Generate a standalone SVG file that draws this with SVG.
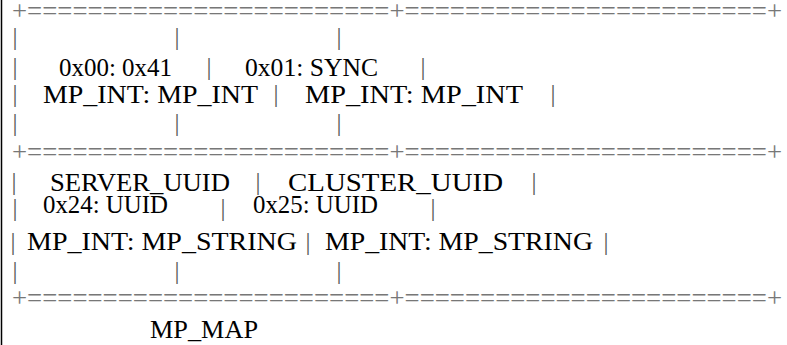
<svg xmlns="http://www.w3.org/2000/svg" width="787" height="345" viewBox="0 0 787 345">
<style>
.t{font-family:"Liberation Serif","Times New Roman",serif;font-size:25px;fill:#000}
.b{font-family:"Liberation Serif","Times New Roman",serif;font-size:25px;fill:#555;text-anchor:middle}
.s{font-family:"Liberation Serif","Times New Roman",serif;font-size:27px;fill:#777}
</style>
<rect width="787" height="345" fill="#fff"/>
<line x1="1.5" y1="0" x2="1.5" y2="345" stroke="#000" stroke-width="1.5"/>
<g id="separators">
<text class="s" x="12" y="20" textLength="770" lengthAdjust="spacingAndGlyphs">+========================+========================+</text>
<text class="s" x="12" y="161" textLength="770" lengthAdjust="spacingAndGlyphs">+========================+========================+</text>
<text class="s" x="12" y="307" textLength="770" lengthAdjust="spacingAndGlyphs">+========================+========================+</text>
</g>
<g id="bars">
<text class="b" x="15" y="45">|</text><text class="b" x="177" y="45">|</text><text class="b" x="339" y="45">|</text>
<text class="b" x="15" y="75">|</text><text class="b" x="209" y="75">|</text><text class="b" x="423" y="75">|</text>
<text class="b" x="15" y="102">|</text><text class="b" x="276" y="102">|</text><text class="b" x="553" y="102">|</text>
<text class="b" x="15" y="131">|</text><text class="b" x="177" y="131">|</text><text class="b" x="339" y="131">|</text>
<text class="b" x="14" y="190">|</text><text class="b" x="258" y="190">|</text><text class="b" x="534" y="190">|</text>
<text class="b" x="15" y="216">|</text><text class="b" x="223" y="216">|</text><text class="b" x="433" y="216">|</text>
<text class="b" x="13" y="250">|</text><text class="b" x="308" y="250">|</text><text class="b" x="606" y="250">|</text>
<text class="b" x="15" y="279">|</text><text class="b" x="177" y="279">|</text><text class="b" x="339" y="279">|</text>
</g>
<g id="cell-0x00">
<text class="t" x="59" y="76" textLength="113" lengthAdjust="spacingAndGlyphs">0x00: 0x41</text>
<text class="t" x="43" y="103" textLength="215" lengthAdjust="spacingAndGlyphs">MP_INT: MP_INT</text>
</g>
<g id="cell-0x01">
<text class="t" x="245" y="76" textLength="133" lengthAdjust="spacingAndGlyphs">0x01: SYNC</text>
<text class="t" x="305" y="103" textLength="218" lengthAdjust="spacingAndGlyphs">MP_INT: MP_INT</text>
</g>
<g id="cell-server-uuid">
<text class="t" x="50" y="191" textLength="180" lengthAdjust="spacingAndGlyphs">SERVER_UUID</text>
<text class="t" x="43" y="213" textLength="125" lengthAdjust="spacingAndGlyphs">0x24: UUID</text>
<text class="t" x="27" y="250" textLength="270" lengthAdjust="spacingAndGlyphs">MP_INT: MP_STRING</text>
</g>
<g id="cell-cluster-uuid">
<text class="t" x="288" y="191" textLength="215" lengthAdjust="spacingAndGlyphs">CLUSTER_UUID</text>
<text class="t" x="253" y="213" textLength="125" lengthAdjust="spacingAndGlyphs">0x25: UUID</text>
<text class="t" x="325" y="250" textLength="268" lengthAdjust="spacingAndGlyphs">MP_INT: MP_STRING</text>
</g>
<g id="caption">
<text class="t" x="150" y="338" textLength="108" lengthAdjust="spacingAndGlyphs">MP_MAP</text>
</g>
</svg>
